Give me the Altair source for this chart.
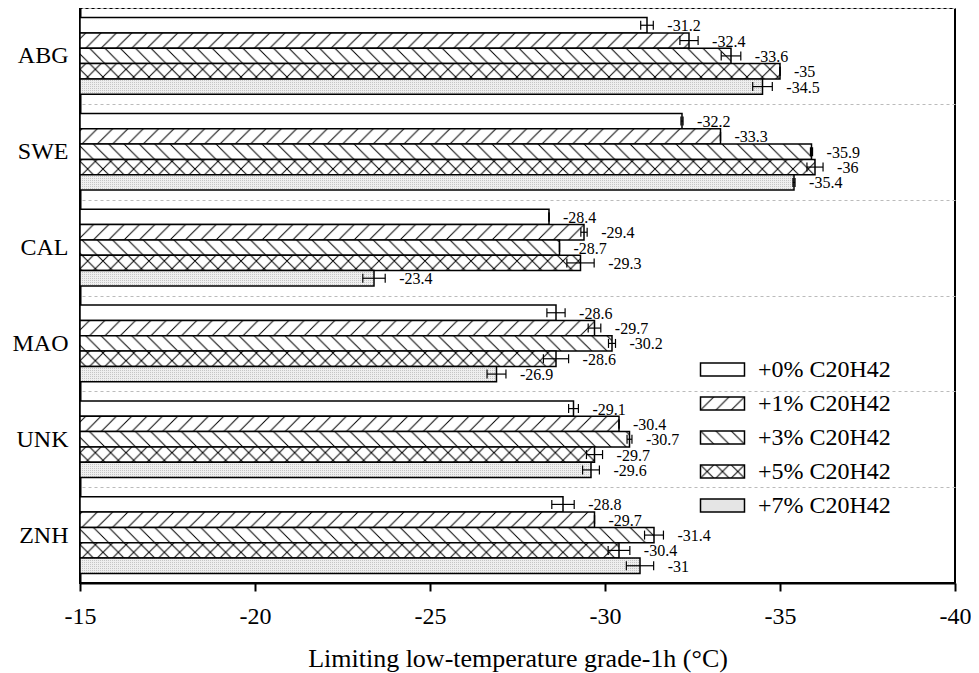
import altair as alt
import pandas as pd
import jinja2

# ---------------- data ----------------
categories = ["ABG", "SWE", "CAL", "MAO", "UNK", "ZNH"]
series = ["+0% C20H42", "+1% C20H42", "+3% C20H42", "+5% C20H42", "+7% C20H42"]

v0 = [-31.2, -32.2, -28.4, -28.6, -29.1, -28.8]
v1 = [-32.4, -33.3, -29.4, -29.7, -30.4, -29.7]
v3 = [-33.6, -35.9, -28.7, -30.2, -30.7, -31.4]
v5 = [-35.0, -36.0, -29.3, -28.6, -29.7, -30.4]
v7 = [-34.5, -35.4, -23.4, -26.9, -29.6, -31.0]

e0 = [0.18, 0.03, 0.00, 0.26, 0.14, 0.32]
e1 = [0.26, 0.00, 0.09, 0.18, 0.00, 0.00]
e3 = [0.28, 0.03, 0.00, 0.10, 0.07, 0.27]
e5 = [0.00, 0.23, 0.39, 0.36, 0.23, 0.31]
e7 = [0.28, 0.03, 0.32, 0.27, 0.24, 0.39]

x_ticks = [-15, -20, -25, -30, -35, -40]

rows = []
for s, vals, errs in zip(series, [v0, v1, v3, v5, v7], [e0, e1, e3, e5, e7]):
    for c, v, e in zip(categories, vals, errs):
        rows.append({"cat": c, "series": s, "value": v, "err": e,
                     "lo": v + e, "hi": v - e, "label": f"{v:g}"})
df = pd.DataFrame(rows)

# ---------------- styling ----------------
W, H = 875, 575
FONT = "Liberation Serif"
OFF_PAD = 0.625            # outer padding of the sub-bands inside each group
P = H / 6 / (5 + 2 * OFF_PAD)  # bar thickness -> hatch period

pattern_ids = ["pat0", "pat1", "pat3", "pat5", "pat7"]
fills = [f"url(#{p})" for p in pattern_ids]

p = round(P, 3)
DEFS = f"""
<svg width="0" height="0" style="position:absolute;width:0;height:0;overflow:hidden" aria-hidden="true">
 <defs>
  <pattern id="pat0" patternUnits="userSpaceOnUse" width="{p}" height="{p}">
   <rect width="{p}" height="{p}" fill="white"/>
  </pattern>
  <pattern id="pat1" patternUnits="userSpaceOnUse" width="{p}" height="{p}">
   <rect width="{p}" height="{p}" fill="white"/>
   <path d="M0,{p} L{p},0 M-3,3 L3,-3 M{p-3},{p+3} L{p+3},{p-3}" stroke="black" stroke-width="1"/>
  </pattern>
  <pattern id="pat3" patternUnits="userSpaceOnUse" width="{p}" height="{p}">
   <rect width="{p}" height="{p}" fill="white"/>
   <path d="M0,0 L{p},{p} M-3,{p-3} L3,{p+3} M{p-3},-3 L{p+3},3" stroke="black" stroke-width="1"/>
  </pattern>
  <pattern id="pat5" patternUnits="userSpaceOnUse" width="{p}" height="{p}">
   <rect width="{p}" height="{p}" fill="white"/>
   <path d="M0,{p} L{p},0 M-3,3 L3,-3 M{p-3},{p+3} L{p+3},{p-3} M0,0 L{p},{p} M-3,{p-3} L3,{p+3} M{p-3},-3 L{p+3},3" stroke="black" stroke-width="1"/>
  </pattern>
  <pattern id="pat7" patternUnits="userSpaceOnUse" width="2" height="2">
   <rect width="2" height="2" fill="#efefef"/>
   <rect width="1" height="1" fill="#c6c6c6"/>
  </pattern>
 </defs>
</svg>
"""

y_enc = alt.Y("cat:N", sort=categories,
              scale=alt.Scale(paddingInner=0, paddingOuter=0),
              axis=alt.Axis(title=None, ticks=False, labelFont=FONT, labelFontSize=24,
                            labelColor="black", labelPadding=12, domainColor="black",
                            domainWidth=2, grid=True, gridDash=[3, 3], gridColor="#bbbbbb",
                            gridWidth=1, tickBand="extent", minExtent=72, maxExtent=72))
yoff = alt.YOffset("series:N", sort=series,
                   scale=alt.Scale(paddingInner=0, paddingOuter=OFF_PAD))
x_scale = alt.Scale(domain=[-40, -15], reverse=True, zero=False, nice=False)

base = alt.Chart(df)

bars = base.mark_bar(stroke="black", strokeWidth=1.5, opacity=1).encode(
    x=alt.X("value:Q", scale=x_scale,
            axis=alt.Axis(values=x_ticks, title="Limiting low-temperature grade-1h (°C)",
                          titleFont=FONT, titleFontSize=26, titleFontWeight="normal",
                          titleColor="black", titlePadding=17,
                          labelExpr="'' + datum.value", labelFont=FONT, labelFontSize=24,
                          labelColor="black", labelPadding=13, labelFlush=False,
                          tickSize=8, tickWidth=2, tickColor="black",
                          domainColor="black", domainWidth=2, grid=False)),
    x2=alt.datum(-15),
    y=y_enc,
    yOffset=yoff,
    color=alt.Color("series:N", sort=series,
                    scale=alt.Scale(domain=series, range=fills),
                    legend=alt.Legend(title=None, orient="none", legendX=627, legendY=346,
                                      symbolType="M-1.5,-0.45H1.5V0.45H-1.5Z", symbolSize=860,
                                      symbolStrokeColor="black", symbolStrokeWidth=1.5,
                                      symbolOpacity=1,
                                      labelFont=FONT, labelFontSize=24, labelColor="black",
                                      labelOffset=20, rowPadding=6, labelLimit=300)),
)

rules = base.mark_rule(color="black", strokeWidth=1.2).encode(
    x=alt.X("lo:Q", scale=x_scale),
    x2="hi:Q",
    y=alt.Y("cat:N", sort=categories),
    yOffset=alt.YOffset("series:N", sort=series),
)

caps = base.transform_fold(["lo", "hi"], as_=["end", "pos"]).mark_tick(
    color="black", thickness=1.2, size=9, opacity=1).encode(
    x=alt.X("pos:Q", scale=x_scale),
    y=alt.Y("cat:N", sort=categories),
    yOffset=alt.YOffset("series:N", sort=series),
)

labels = base.mark_text(align="left", baseline="middle", dx=14, dy=1, font=FONT,
                        fontSize=16, color="black").encode(
    x=alt.X("hi:Q", scale=x_scale),
    y=alt.Y("cat:N", sort=categories),
    yOffset=alt.YOffset("series:N", sort=series),
    text="label:N",
)

chart = alt.layer(bars, rules, caps, labels).properties(
    width=W, height=H,
    padding={"left": 0, "top": -12, "right": 0, "bottom": 2},
    background="white",
).configure_view(stroke="black", strokeWidth=2, fill="white")


# template that adds the hatch pattern definitions to the page
try:
    from altair.utils import html as _alt_html
    _base_tpl = getattr(_alt_html, "TEMPLATES", {}).get("standard", None) or _alt_html.HTML_TEMPLATE

    class PatternTemplate(jinja2.Template):
        def render(self, *args, **kwargs):
            out = _base_tpl.render(*args, **kwargs)
            if "</body>" in out:
                return out.replace("</body>", DEFS + "</body>", 1)
            return out + DEFS

    _tpl = PatternTemplate("x")
    chart.save("out.html", embed_options={"renderer": "svg", "actions": False}, template=_tpl)
except Exception:
    chart.save("out.html", embed_options={"renderer": "svg", "actions": False})
